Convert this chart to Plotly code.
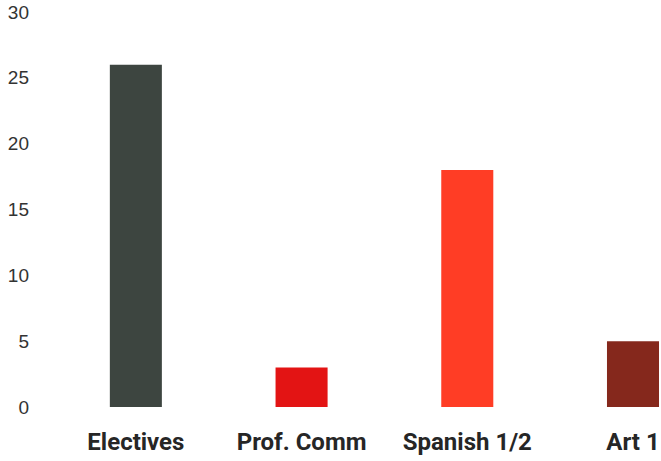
import plotly.graph_objects as go

categories = ["Electives", "Prof. Comm", "Spanish 1/2", "Art 1"]
values = [26, 3, 18, 5]
colors = ["#3d4540", "#e31414", "#ff3d25", "#85281c"]
y_ticks = [0, 5, 10, 15, 20, 25, 30]

fig = go.Figure(
    go.Bar(
        x=list(range(len(categories))),
        y=values,
        marker=dict(color=colors, line=dict(width=0)),
        width=0.314,
    )
)

fig.update_layout(
    width=661,
    height=461,
    margin=dict(l=53, r=0, t=12, b=54),
    plot_bgcolor="white",
    paper_bgcolor="white",
    showlegend=False,
    xaxis=dict(
        range=[-0.5, 3.169],
        tickmode="array",
        tickvals=list(range(len(categories))),
        ticktext=categories,
        tickfont=dict(family="Roboto", size=24, color="#262626", weight="bold"),
        showgrid=False,
        zeroline=False,
        showline=False,
        ticks="",
        ticklabelstandoff=18,
    ),
    yaxis=dict(
        range=[0, 30],
        tickmode="array",
        tickvals=y_ticks,
        tickfont=dict(family="Liberation Sans", size=19, color="#333333"),
        showgrid=False,
        zeroline=False,
        showline=False,
        ticks="",
        ticklabelstandoff=23,
    ),
)

fig.write_html(
    "out.html",
    config={"displayModeBar": False},
    post_script="document.body.style.margin='0';document.body.style.overflow='hidden';",
)
